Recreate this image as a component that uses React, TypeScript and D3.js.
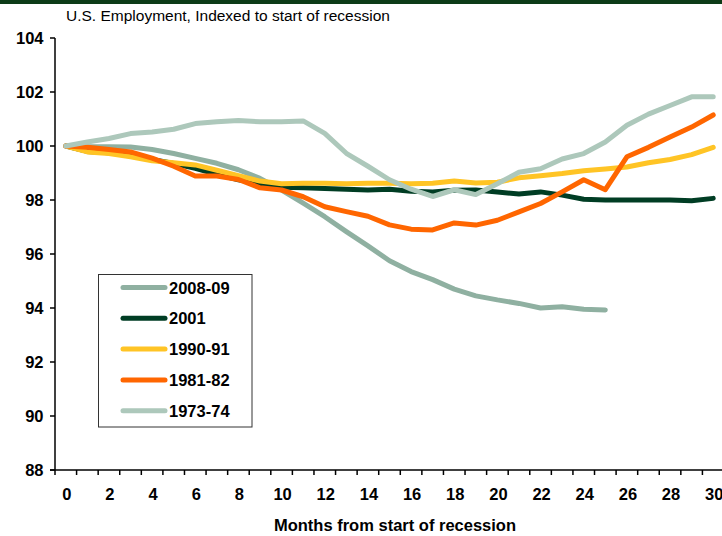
import React from "react";
import * as d3 from "d3";

const months = d3.range(0, 31);
const xTickLabels = [0, 2, 4, 6, 8, 10, 12, 14, 16, 18, 20, 22, 24, 26, 28, 30];
const yTickLabels = [88, 90, 92, 94, 96, 98, 100, 102, 104];

const s2008 = [100, 99.97, 99.97, 99.96, 99.87, 99.72, 99.54, 99.36, 99.12, 98.8, 98.37, 97.88, 97.38, 96.83, 96.3, 95.75, 95.35, 95.05, 94.7, 94.45, 94.3, 94.17, 94.0, 94.05, 93.95, 93.93];
const s2001 = [100, 99.8, 99.75, 99.65, 99.5, 99.35, 99.17, 98.95, 98.75, 98.6, 98.47, 98.45, 98.43, 98.4, 98.37, 98.4, 98.32, 98.3, 98.36, 98.37, 98.3, 98.22, 98.3, 98.18, 98.03, 98.0, 98.0, 98.0, 98.0, 97.97, 98.06];
const s1990 = [100, 99.78, 99.72, 99.6, 99.45, 99.38, 99.3, 99.1, 98.9, 98.7, 98.6, 98.62, 98.62, 98.6, 98.62, 98.62, 98.6, 98.62, 98.7, 98.63, 98.66, 98.82, 98.9, 98.98, 99.08, 99.15, 99.22, 99.38, 99.5, 99.68, 99.95];
const s1981 = [100, 99.95, 99.87, 99.78, 99.55, 99.25, 98.89, 98.89, 98.76, 98.45, 98.37, 98.12, 97.75, 97.57, 97.4, 97.08, 96.92, 96.89, 97.15, 97.07, 97.25, 97.56, 97.87, 98.3, 98.75, 98.38, 99.6, 99.95, 100.33, 100.7, 101.15];
const s1973 = [100, 100.15, 100.28, 100.46, 100.52, 100.62, 100.83, 100.9, 100.94, 100.9, 100.9, 100.93, 100.47, 99.73, 99.25, 98.75, 98.4, 98.13, 98.38, 98.2, 98.6, 99.03, 99.16, 99.52, 99.72, 100.15, 100.77, 101.18, 101.5, 101.82, 101.82];

const seriesNames = ["2008-09", "2001", "1990-91", "1981-82", "1973-74"];
const seriesValues = [s2008, s2001, s1990, s1981, s1973];
const seriesColors = ["#8fb0a1", "#003d24", "#ffc425", "#ff6600", "#adc8bb"];

const W = 722;
const H = 536;
const FONT = "Arial, 'Liberation Sans', sans-serif";
const FS = 16.5;

export default function App() {
  const x = d3.scaleBand<number>().domain(months).range([55, 724]).paddingInner(0).paddingOuter(0);
  const xc = (m: number) => (x(m) as number) + x.bandwidth() / 2;
  const y = d3.scaleLinear().domain([88, 104]).range([470, 38]);
  const line = d3
    .line<number>()
    .x((_, i) => xc(i))
    .y((v) => y(v));

  const legendX = 98.5;
  const legendY = 274.5;
  const legendW = 153.5;
  const legendH = 152.5;
  const rowY = (i: number) => 287.5 + i * 30.8;

  return (
    <svg width={W} height={H} style={{ position: "absolute", left: 0, top: 0, background: "#fff" }} fontFamily={FONT}>
      <rect x={0} y={0} width={W} height={4} fill="#0d3b17" />
      <text x={66} y={21} fontSize={15.5} fill="#000">U.S. Employment, Indexed to start of recession</text>

      {/* y axis */}
      <line x1={55} x2={55} y1={y(104)} y2={y(88)} stroke="#000" strokeWidth={1.5} />
      {yTickLabels.map((t) => (
        <g key={t}>
          <line x1={50} x2={55} y1={y(t)} y2={y(t)} stroke="#000" strokeWidth={1.5} />
          <text x={43.5} y={y(t) + 6} textAnchor="end" fontSize={FS} fontWeight="bold">{t}</text>
        </g>
      ))}

      {/* x axis */}
      <line x1={50} x2={722} y1={y(88)} y2={y(88)} stroke="#000" strokeWidth={1.5} />
      {months.map((m) => (
        <line key={m} x1={x(m) as number} x2={x(m) as number} y1={y(88)} y2={y(88) + 5} stroke="#000" strokeWidth={1.5} />
      ))}
      {xTickLabels.map((m) => (
        <text key={m} x={xc(m) + 1} y={500} textAnchor="middle" fontSize={FS} fontWeight="bold">{m}</text>
      ))}
      <text x={395} y={530.5} textAnchor="middle" fontSize={FS} fontWeight="bold">Months from start of recession</text>

      {/* series */}
      {seriesValues.map((vals, i) => (
        <path key={seriesNames[i]} d={line(vals) || ""} fill="none" stroke={seriesColors[i]} strokeWidth={5} strokeLinejoin="round" strokeLinecap="round" />
      ))}

      {/* legend */}
      <rect x={legendX} y={legendY} width={legendW} height={legendH} fill="#fff" stroke="#333" strokeWidth={1} />
      {seriesNames.map((n, i) => (
        <g key={n}>
          <line x1={123} x2={165} y1={rowY(i)} y2={rowY(i)} stroke={seriesColors[i]} strokeWidth={5} strokeLinecap="round" />
          <text x={169} y={rowY(i) + 6} fontSize={FS} fontWeight="bold">{n}</text>
        </g>
      ))}
    </svg>
  );
}
